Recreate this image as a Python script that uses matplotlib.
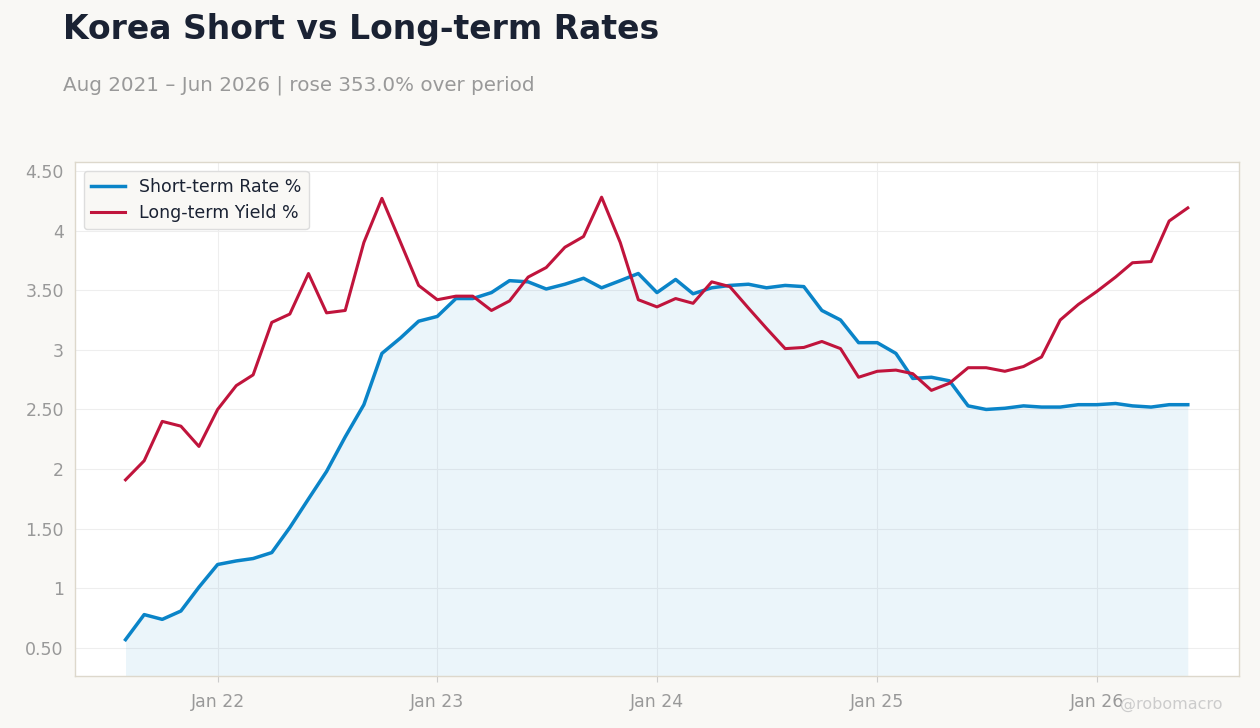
import matplotlib
matplotlib.use("Agg")
import matplotlib.pyplot as plt
import pandas as pd

dates = pd.date_range("2021-08-01", "2026-06-01", freq="MS")
short_rate = [0.57,0.78,0.74,0.81,1.01,1.20,1.23,1.25,1.30,1.51,1.75,1.98,2.27,2.54,2.97,3.10,3.24,
              3.28,3.43,3.43,3.48,3.58,3.57,3.51,3.55,3.60,3.52,3.58,3.64,
              3.48,3.59,3.47,3.52,3.54,3.55,3.52,3.54,3.53,3.33,3.25,3.06,
              3.06,2.97,2.76,2.77,2.74,2.53,2.50,2.51,2.53,2.52,2.52,2.54,
              2.54,2.55,2.53,2.52,2.54,2.54]
long_yield = [1.91,2.07,2.40,2.36,2.19,2.50,2.70,2.79,3.23,3.30,3.64,3.31,3.33,3.90,4.27,3.90,3.54,
              3.42,3.45,3.45,3.33,3.41,3.61,3.69,3.86,3.95,4.28,3.90,3.42,
              3.36,3.43,3.39,3.57,3.53,3.35,3.18,3.01,3.02,3.07,3.01,2.77,
              2.82,2.83,2.80,2.66,2.72,2.85,2.85,2.82,2.86,2.94,3.25,3.38,
              3.49,3.61,3.73,3.74,4.08,4.19]
ytick_vals = [0.5,1,1.5,2,2.5,3,3.5,4,4.5]
ytick_labels = ["0.50","1","1.50","2","2.50","3","3.50","4","4.50"]
xtick_dates = ["2022-01-01","2023-01-01","2024-01-01","2025-01-01","2026-01-01"]
xtick_labels = ["Jan 22","Jan 23","Jan 24","Jan 25","Jan 26"]

bg = "#f9f8f5"
fig = plt.figure(figsize=(12.6,7.28), dpi=100, facecolor=bg)
ax = fig.add_axes([0.0595,0.0714,0.9238,0.7061])
ax.set_facecolor("white")
blue = "#0a84c8"; red = "#c0143c"
ax.fill_between(dates, short_rate, 0, color=blue, alpha=0.08, lw=0)
ax.plot(dates, short_rate, color=blue, lw=2.5, label="Short-term Rate %")
ax.plot(dates, long_yield, color=red, lw=2.2, label="Long-term Yield %")
ax.set_ylim(0.265, 4.575)
ax.set_xlim(dates[0]-pd.Timedelta(days=84), dates[-1]+pd.Timedelta(days=85))
ax.set_yticks(ytick_vals); ax.set_yticklabels(ytick_labels)
ax.set_xticks(pd.to_datetime(xtick_dates)); ax.set_xticklabels(xtick_labels)
ax.grid(True, color="#eeeeee", lw=0.8)
ax.set_axisbelow(True)
for s in ax.spines.values():
    s.set_color("#ddd8cc"); s.set_linewidth(1)
ax.tick_params(colors="#999999", labelsize=12.5, length=0, pad=8)
ax.tick_params(axis="x", length=4, color="#cccccc")
leg = ax.legend(loc="upper left", fontsize=12.5, frameon=True, facecolor=bg, edgecolor="#dddddd", framealpha=1)
for t in leg.get_texts(): t.set_color("#1a2233")
fig.text(0.05, 0.96, "Korea Short vs Long-term Rates", fontsize=23.8, fontweight="bold", color="#1a2233", va="center")
fig.text(0.05, 0.883, "Aug 2021 – Jun 2026 | rose 353.0% over period", fontsize=14.3, color="#999999", va="center")
fig.text(0.97, 0.032, "@robomacro", fontsize=11.5, color="#cccccc", ha="right", va="center")
fig.savefig("out.png", dpi=100, facecolor=bg)
